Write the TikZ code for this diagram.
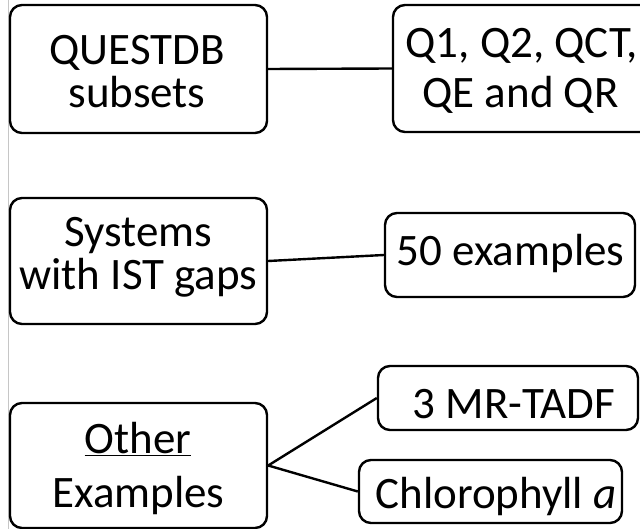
\documentclass[tikz,border=0pt]{standalone}
\usepackage{fontspec}
\setmainfont{Carlito}
\begin{document}
\begin{tikzpicture}[x=1pt,y=1pt,
  box/.style={draw=black, line width=2.4pt, rounded corners=12pt, fill=white, inner sep=0pt},
  txt/.style={anchor=base, inner sep=0pt, text=black, font=\fontsize{45}{43}\selectfont},
  link/.style={draw=black, line width=2.4pt}]
\useasboundingbox (0,0) rectangle (640,-529);
\fill[white] (0,0) rectangle (640,-529);
\draw[gray!45, line width=1pt] (8.5,0) -- (8.5,-529);
% boxes
\node[box, minimum width=257pt, minimum height=128pt] (qdb) at (138.5,-69) {};
\node[box, minimum width=260pt, minimum height=127pt] (qsub) at (523,-68.5) {};
\node[box, minimum width=257pt, minimum height=126pt] (ist) at (138.5,-261) {};
\node[box, minimum width=250pt, minimum height=84pt] (fifty) at (510,-255) {};
\node[box, minimum width=257pt, minimum height=125pt] (other) at (138.5,-465.5) {};
\node[box, minimum width=260pt, minimum height=64pt] (tadf) at (508,-398) {};
\node[box, minimum width=263pt, minimum height=63pt] (chl) at (490.5,-491.5) {};
% texts
\node[txt] (qdb1) at (137,-65) {QUESTDB};
\node[txt] (qdb2) at (137,-108) {subsets};
\node[txt] (qsub1) at (521.5,-58) {Q1, Q2, QCT,};
\node[txt] (qsub2) at (520.5,-108) {QE and QR};
\node[txt] (ist1) at (138.5,-247) {Systems};
\node[txt] (ist2) at (138.5,-290) {with IST gaps};
\node[txt] (fifty1) at (510.5,-266) {50 examples};
\node[txt] (other1) at (138,-453) {\underline{Other}};
\node[txt] (other2) at (138.5,-507) {Examples};
\node[txt] (tadf1) at (514,-418) {3 MR-TADF};
\node[txt] (chl1) at (496,-508) {Chlorophyll \textit{a}};
% connectors
\draw[link] (qdb.east) -- (qsub.west);
\draw[link] (ist.east) -- (fifty.west);
\draw[link] (other.east) -- (tadf.west);
\draw[link] (other.east) -- (chl.west);
\end{tikzpicture}
\end{document}
